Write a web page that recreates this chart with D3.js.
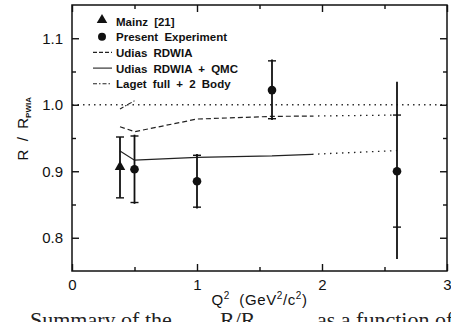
<!DOCTYPE html>
<html>
<head>
<meta charset="utf-8">
<script src="https://cdn.jsdelivr.net/npm/d3@7"></script>
<style>
  body { margin: 0; background: #fff; }
  svg { display: block; }
</style>
</head>
<body>
<div id="chart"></div>
<script>
// Mainz point
const mainzQ2 = [0.384];
const mainzR = [0.905];
const mainzLo = [0.860];
const mainzHi = [0.9515];

// present experiment: value, stat range (capped), total range
const expQ2 = [0.5, 1.0, 1.6, 2.6];
const expR = [0.903, 0.885, 1.022, 0.900];
const expStatLo = [0.853, 0.846, 0.979, 0.816];
const expStatHi = [0.953, 0.924, 1.066, 0.9845];
const expTotLo = [0.851, 0.844, 0.977, 0.768];
const expTotHi = [0.955, 0.926, 1.068, 1.0345];

// Udias RDWIA (dashed) and its dotted extension
const rdwiaQ2 = [0.384, 0.5, 1.0, 1.6, 1.92];
const rdwiaR = [0.967, 0.9595, 0.9785, 0.9825, 0.983];
const rdwiaExtQ2 = [1.92, 2.6];
const rdwiaExtR = [0.983, 0.9845];

// Udias RDWIA + QMC (solid) and its dotted extension
const qmcQ2 = [0.384, 0.5, 1.0, 1.6, 1.92];
const qmcR = [0.9305, 0.9166, 0.921, 0.923, 0.9255];
const qmcExtQ2 = [1.92, 2.6];
const qmcExtR = [0.9255, 0.931];

// Laget full + 2 body (dash-dot)
const lagetQ2 = [0.384, 0.5];
const lagetR = [0.9935, 1.006];

const legendLabels = ["Mainz [21]", "Present Experiment", "Udias RDWIA", "Udias RDWIA + QMC", "Laget full + 2 Body"];

const width = 451, height = 322;
const mLeft = 72, mRight = 447, mTop = 5, mBottom = 271;

const svg = d3.select("#chart").append("svg")
    .attr("width", width)
    .attr("height", height)
    .style("overflow", "hidden");

const x = d3.scaleLinear().domain([0, 3]).range([mLeft, mRight]);
const y = d3.scaleLinear().domain([0.75, 1.15]).range([mBottom, mTop]);

const font = "'Liberation Sans', Arial, sans-serif";
const ink = "#111";

// reference line at 1.0
svg.append("line")
    .attr("x1", x(0)).attr("x2", x(3))
    .attr("y1", y(1.0)).attr("y2", y(1.0))
    .attr("stroke", "#333").attr("stroke-width", 1.5)
    .attr("stroke-dasharray", "1.5,4");

const line = d3.line().x(d => x(d[0])).y(d => y(d[1]));
function drawCurve(qs, rs, dash, w) {
    svg.append("path")
        .datum(qs.map((q, i) => [q, rs[i]]))
        .attr("d", line)
        .attr("fill", "none")
        .attr("stroke", "#222")
        .attr("stroke-width", w)
        .attr("stroke-dasharray", dash);
}
drawCurve(rdwiaQ2, rdwiaR, "5,3", 1.2);
drawCurve(rdwiaExtQ2, rdwiaExtR, "1.5,4.5", 1.3);
drawCurve(qmcQ2, qmcR, null, 1.2);
drawCurve(qmcExtQ2, qmcExtR, "1.5,4.5", 1.3);
drawCurve(lagetQ2, lagetR, "4,2,1.5,2", 1.1);

// error bars
function errBar(q, lo, hi, capLo, capHi) {
    svg.append("line")
        .attr("x1", x(q)).attr("x2", x(q))
        .attr("y1", y(lo)).attr("y2", y(hi))
        .attr("stroke", ink).attr("stroke-width", 1.8);
    [capLo, capHi].forEach(v => {
        svg.append("line")
            .attr("x1", x(q) - 4).attr("x2", x(q) + 4)
            .attr("y1", y(v)).attr("y2", y(v))
            .attr("stroke", ink).attr("stroke-width", 1.4);
    });
}
mainzQ2.forEach((q, i) => errBar(q, mainzLo[i], mainzHi[i], mainzLo[i], mainzHi[i]));
expQ2.forEach((q, i) => errBar(q, expTotLo[i], expTotHi[i], expStatLo[i], expStatHi[i]));

const tri = d3.symbol().type(d3.symbolTriangle).size(48);
svg.selectAll(".mainz")
    .data(mainzQ2)
    .enter().append("path")
    .attr("class", "mainz")
    .attr("d", tri)
    .attr("transform", (d, i) => `translate(${x(d)},${y(mainzR[i]) - 1})`)
    .attr("fill", ink);

svg.selectAll(".exp")
    .data(expQ2)
    .enter().append("circle")
    .attr("class", "exp")
    .attr("cx", d => x(d))
    .attr("cy", (d, i) => y(expR[i]))
    .attr("r", 4.3)
    .attr("fill", ink);

// frame
svg.append("rect")
    .attr("x", mLeft).attr("y", mTop)
    .attr("width", mRight - mLeft).attr("height", mBottom - mTop)
    .attr("fill", "none").attr("stroke", ink).attr("stroke-width", 1.5);

// axes with inward ticks
const yMajor = [0.8, 0.9, 1.0, 1.1];
const yMinor = [0.85, 0.95, 1.05];
const xMajor = [0, 1, 2, 3];
const xMinor = [0.5, 1.5, 2.5];

function styleAxis(g) {
    g.select(".domain").remove();
    g.selectAll("line").attr("stroke", ink).attr("stroke-width", 1.4);
    g.selectAll("text").attr("font-family", font).attr("font-size", 15).attr("fill", ink);
}

svg.append("g").attr("transform", `translate(${mLeft},0)`)
    .call(d3.axisLeft(y).tickValues(yMajor).tickSize(-7).tickPadding(9).tickFormat(d3.format(".1f")))
    .call(styleAxis);
svg.append("g").attr("transform", `translate(${mLeft},0)`)
    .call(d3.axisLeft(y).tickValues(yMinor).tickSize(-4).tickFormat(""))
    .call(styleAxis);
svg.append("g").attr("transform", `translate(${mRight},0)`)
    .call(d3.axisRight(y).tickValues(yMajor).tickSize(-7).tickFormat(""))
    .call(styleAxis);
svg.append("g").attr("transform", `translate(${mRight},0)`)
    .call(d3.axisRight(y).tickValues(yMinor).tickSize(-4).tickFormat(""))
    .call(styleAxis);
svg.append("g").attr("transform", `translate(0,${mBottom})`)
    .call(d3.axisBottom(x).tickValues(xMajor).tickSize(-7).tickPadding(8).tickFormat(d3.format("d")))
    .call(styleAxis);
svg.append("g").attr("transform", `translate(0,${mBottom})`)
    .call(d3.axisBottom(x).tickValues(xMinor).tickSize(-4).tickFormat(""))
    .call(styleAxis);
svg.append("g").attr("transform", `translate(0,${mTop})`)
    .call(d3.axisTop(x).tickValues(xMajor).tickSize(-7).tickFormat(""))
    .call(styleAxis);
svg.append("g").attr("transform", `translate(0,${mTop})`)
    .call(d3.axisTop(x).tickValues(xMinor).tickSize(-4).tickFormat(""))
    .call(styleAxis);

// axis titles
const xt = svg.append("text")
    .attr("x", x(1.5)).attr("y", 305)
    .attr("text-anchor", "middle")
    .attr("font-family", font).attr("font-size", 15).attr("fill", ink)
    .attr("letter-spacing", 0.6)
    .attr("xml:space", "preserve");
xt.append("tspan").text("Q");
xt.append("tspan").attr("dy", -6).attr("font-size", 10).text("2");
xt.append("tspan").attr("dy", 6).text("  (GeV");
xt.append("tspan").attr("dy", -6).attr("font-size", 10).text("2");
xt.append("tspan").attr("dy", 6).text("/c");
xt.append("tspan").attr("dy", -6).attr("font-size", 10).text("2");
xt.append("tspan").attr("dy", 6).text(")");

const yt = svg.append("text")
    .attr("transform", `translate(28,${y(0.964)}) rotate(-90)`)
    .attr("text-anchor", "middle")
    .attr("font-family", font).attr("font-size", 15).attr("fill", ink)
    .attr("xml:space", "preserve");
yt.append("tspan").text("R  /  R");
yt.append("tspan").attr("dy", 3).attr("font-size", 8).attr("font-weight", "bold").text("PWIA");

// legend
const legX = 93, legY0 = 21, legDy = 15.7;
const legend = svg.append("g");
legendLabels.forEach((lab, i) => {
    const yy = legY0 + i * legDy;
    legend.append("text")
        .attr("x", 116).attr("y", yy + 4.5)
        .attr("font-family", font).attr("font-size", 11.5).attr("font-weight", "bold")
        .attr("word-spacing", 3)
        .attr("fill", ink)
        .text(lab);
});
legend.append("path").attr("d", tri).attr("fill", ink)
    .attr("transform", `translate(102,${legY0 - 1})`);
legend.append("circle").attr("cx", 102).attr("cy", legY0 + legDy).attr("r", 4).attr("fill", ink);
[["4,2", 2], [null, 3], ["4,2,1.5,2", 4]].forEach(([dash, i]) => {
    legend.append("line")
        .attr("x1", legX).attr("x2", legX + 19)
        .attr("y1", legY0 + i * legDy).attr("y2", legY0 + i * legDy)
        .attr("stroke", "#222").attr("stroke-width", 1.1)
        .attr("stroke-dasharray", dash);
});

// top of the caption line below the figure (cut off, as in the source page)
const cap = svg.append("text")
    .attr("y", 327)
    .attr("font-family", "'Liberation Serif', 'DejaVu Serif', serif")
    .attr("font-size", 22).attr("fill", "#222");
cap.append("tspan").attr("x", 30).text("Summary of the");
cap.append("tspan").attr("x", 220).text("R/R");
cap.append("tspan").attr("dy", 8).attr("font-size", 14).text("PWIA");
cap.append("tspan").attr("x", 317).attr("dy", -8).text("as a function of");
</script>
</body>
</html>
